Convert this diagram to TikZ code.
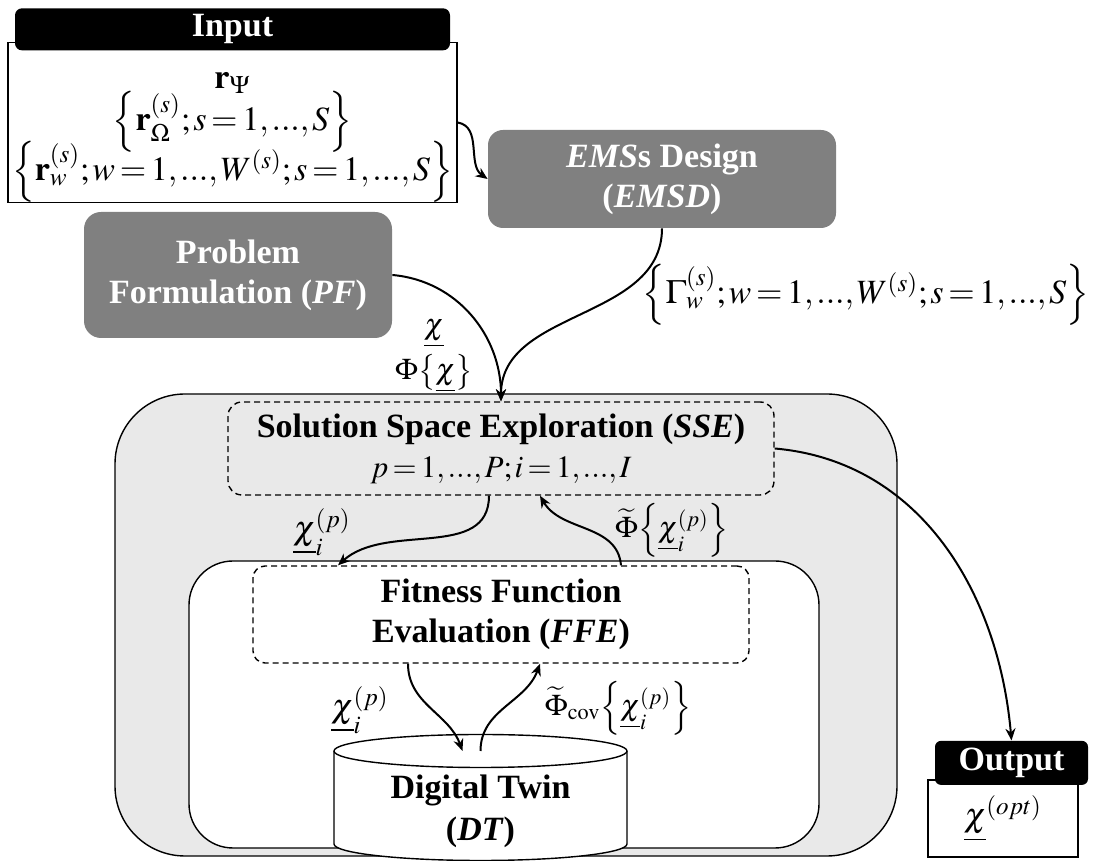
\documentclass[tikz,border=0pt]{standalone}
\usepackage{amsmath}
\usepackage{mathptmx}
\usepackage[no-math]{fontspec}
\setmainfont{Liberation Serif}
\usetikzlibrary{arrows.meta, positioning}
\definecolor{boxgray}{RGB}{128,128,128}
\definecolor{panelgray}{RGB}{233,233,233}
\thinmuskip=1.5mu
\medmuskip=2mu
\thickmuskip=2.5mu

\begin{document}
\begin{tikzpicture}[
  x=0.5pt, y=0.5pt,
  head/.style={fill=black, rounded corners=3.5pt, text=white, inner sep=0pt, font=\bfseries\fontsize{17}{20}\selectfont},
  io/.style={draw, line width=0.7pt, fill=white, inner sep=0pt, align=center, font=\fontsize{17}{20}\selectfont},
  task/.style={fill=boxgray, text=white, align=center, font=\bfseries\fontsize{17}{20}\selectfont},
  panel/.style={draw, line width=0.7pt},
  stage/.style={draw, line width=0.7pt, dash pattern=on 3pt off 2pt, rounded corners=7pt, align=center, font=\bfseries\fontsize{17}{20}\selectfont},
  lbl/.style={inner sep=0pt, align=center, font=\fontsize{17}{20}\selectfont},
  small/.style={font=\fontsize{15}{18}\selectfont},
  arrow/.style={line width=1pt, -{Stealth[length=6pt, width=5pt]}}
]
\useasboundingbox (0,0) rectangle (1098,861);

% Input
\node[io, minimum width=224.5pt, minimum height=79.5pt,
      font={\fontsize{17}{25}\selectfont\lineskiplimit=-50pt}] (inbox) at (232.5,738.5)
  {\rule{0pt}{23pt}$\mathbf{r}_{\Psi}$\\[-4pt]
   $\Bigl\{\mathbf{r}_{\Omega}^{(s)};s=1,...,S\Bigr\}$\\
   $\Bigl\{\mathbf{r}_{w}^{(s)};w=1,...,W^{(s)};s=1,...,S\Bigr\}$};
\node[head, minimum width=217.5pt, minimum height=21pt, above=-4.5pt of inbox] (inhead) {Input};

% Design blocks
\node[task, rounded corners=7.5pt, minimum width=174pt, minimum height=49pt] (emsd) at (662,682) {\textit{EMS}s Design\\(\textit{EMSD})};
\node[task, rounded corners=8.5pt, minimum width=154pt, minimum height=63pt] (pf) at (238,586) {Problem\\Formulation (\textit{PF})};

% Optimization loop
\node[panel, fill=panelgray, rounded corners=35pt, minimum width=391pt, minimum height=231pt] (loop) at (506,236) {};
\node[panel, fill=white, rounded corners=22pt, minimum width=315pt, minimum height=143.5pt] (evalbox) at (504,156.5) {};
\node[stage, minimum width=273pt, minimum height=46.5pt] (sse) at (501,412.5) {Solution Space Exploration (\textit{SSE})\\\mdseries\fontsize{15.5}{20}\selectfont $p=1,...,P;i=1,...,I$};
\node[stage, rounded corners=6pt, minimum width=248pt, minimum height=48.5pt] (ffe) at (501,246.5) {Fitness Function\\Evaluation (\textit{FFE})};

% Digital twin
\coordinate (dttop) at (480.5,110);
\draw[panel, fill=white] ([xshift=-73.25pt]dttop) -- ++(0,-93)
  arc[start angle=180, end angle=360, x radius=73.25pt, y radius=8.25pt] -- ++(0,93)
  arc[start angle=0, end angle=180, x radius=73.25pt, y radius=8.25pt] -- cycle;
\draw[panel] ([xshift=-73.25pt]dttop) arc[start angle=180, end angle=360, x radius=73.25pt, y radius=8.25pt];
\node[lbl, font=\bfseries\fontsize{17}{21}\selectfont] (dt) at (480.5,50) {Digital Twin\\(\textit{DT})};

% Output
\node[io, minimum width=75pt, minimum height=38.5pt] (outbox) at (1003,42.5) {$\underline{\chi}^{(opt)}$};
\node[head, rounded corners=3pt, minimum width=76.5pt, minimum height=22pt, above=-3pt of outbox, xshift=4.25pt] (outhead) {Output};

% Flows
\draw[arrow] (inbox.east) to[out=-10, in=145] (emsd.west);
\draw[arrow] (emsd.south) to[out=-90, in=90] (sse.north);
\draw[arrow] (pf.east) to[out=-5, in=90] (sse.north);
\draw[arrow] ([xshift=-6pt]sse.south) to[out=-90, in=42] ([xshift=-81.5pt]ffe.north);
\draw[arrow] ([xshift=60pt]ffe.north) to[out=95, in=-60] ([xshift=19.5pt]sse.south);
\draw[arrow] ([xshift=-46.5pt]ffe.south) to[out=-90, in=110] ([xshift=-9pt]dttop);
\draw[arrow] (dttop) to[out=90, in=-110] ([xshift=19.5pt]ffe.south);
\draw[arrow] (sse.east) to[out=-5, in=95] (outhead.north);

% Flow labels
\node[lbl] (gammalbl) at (866,566) {$\Bigl\{\Gamma_{w}^{(s)};w=1,...,W^{(s)};s=1,...,S\Bigr\}$};
\node[lbl, font={\fontsize{15}{22.5}\selectfont\lineskiplimit=-50pt}] (pflbl) at (434,505) {$\underline{\chi}$\\$\Phi\bigl\{\underline{\chi}\bigr\}$};
\node[lbl] (xlbl) at (322,329) {$\underline{\chi}_{i}^{(p)}$};
\node[lbl, small] (philbl) at (672,331) {$\widetilde{\Phi}\Bigl\{\underline{\chi}_{i}^{(p)}\Bigr\}$};
\node[lbl] (xdtlbl) at (360,151) {$\underline{\chi}_{i}^{(p)}$};
\node[lbl, small] (covlbl) at (618,153) {$\widetilde{\Phi}_{\mathrm{cov}}\Bigl\{\underline{\chi}_{i}^{(p)}\Bigr\}$};

\end{tikzpicture}
\end{document}
